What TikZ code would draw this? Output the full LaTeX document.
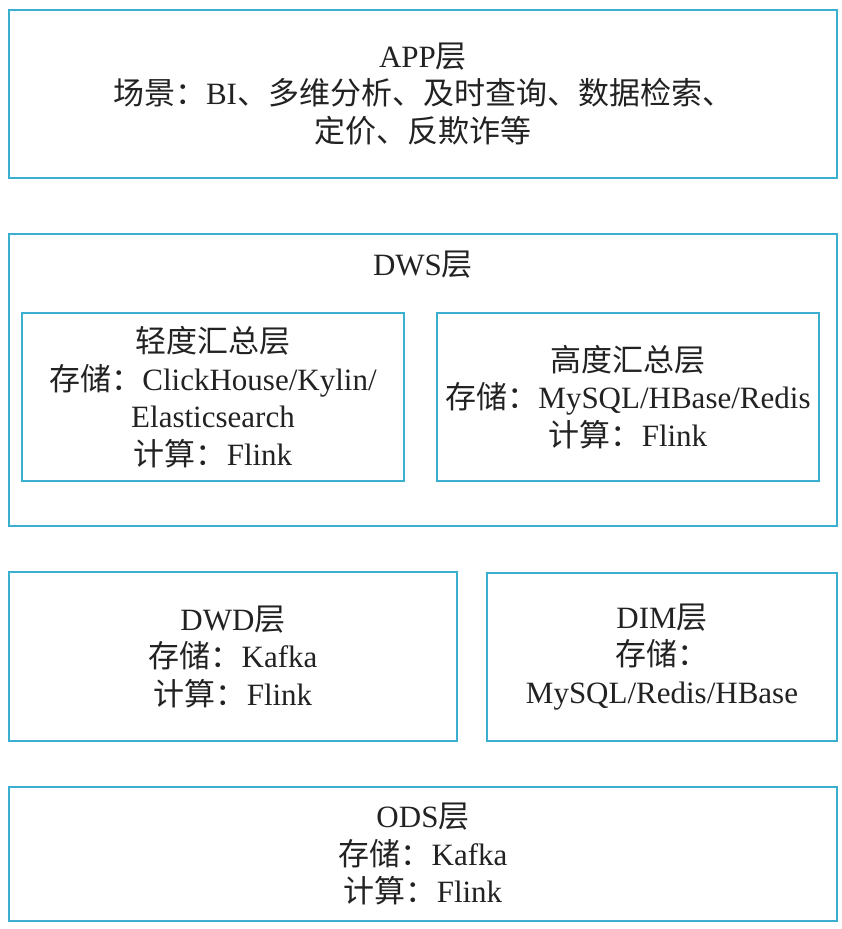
\documentclass[tikz,border=0pt]{standalone}
\usepackage{fontspec}
\setmainfont{Liberation Serif}
\newfontfamily\cjk{Noto Sans CJK SC}
\definecolor{boxblue}{HTML}{3BAFD0}
\definecolor{txt}{HTML}{222222}
\newcommand{\zh}[1]{{\cjk #1}}
\begin{document}
\begin{tikzpicture}[x=1pt,y=-1pt,
  layerbox/.style={draw=boxblue,line width=2pt,rectangle,inner sep=0pt,
    align=center,text=txt,font=\fontsize{31}{37.5}\selectfont},
  lbl/.style={inner sep=0pt,text=txt,font=\fontsize{31}{37.5}\selectfont}]
\useasboundingbox (0,0) rectangle (842,929);
\node[layerbox,minimum width=828pt,minimum height=168pt] (app) at (423,94)
  {APP\zh{层}\\ \zh{场景：}BI\zh{、多维分析、及时查询、数据检索、}\\ \zh{定价、反欺诈等}};
\node[layerbox,minimum width=828pt,minimum height=292pt] (dws) at (423,380) {};
\node[lbl] (dwst) at (423,265) {DWS\zh{层}};
\node[layerbox,minimum width=382pt,minimum height=168pt] (light) at (213,397)
  {\zh{轻度汇总层}\\ \zh{存储：}ClickHouse/Kylin/\\ Elasticsearch\\ \zh{计算：}Flink};
\node[layerbox,minimum width=382pt,minimum height=168pt] (heavy) at (628,397)
  {\zh{高度汇总层}\\ \zh{存储：}MySQL/HBase/Redis\\ \zh{计算：}Flink};
\node[layerbox,minimum width=448pt,minimum height=169pt] (dwd) at (233,656.5)
  {DWD\zh{层}\\ \zh{存储：}Kafka\\ \zh{计算：}Flink};
\node[layerbox,minimum width=350pt,minimum height=168pt] (dim) at (662,657)
  {DIM\zh{层}\\ \zh{存储：}\\ MySQL/Redis/HBase};
\node[layerbox,minimum width=828pt,minimum height=134pt] (ods) at (423,854)
  {ODS\zh{层}\\ \zh{存储：}Kafka\\ \zh{计算：}Flink};
\end{tikzpicture}
\end{document}
